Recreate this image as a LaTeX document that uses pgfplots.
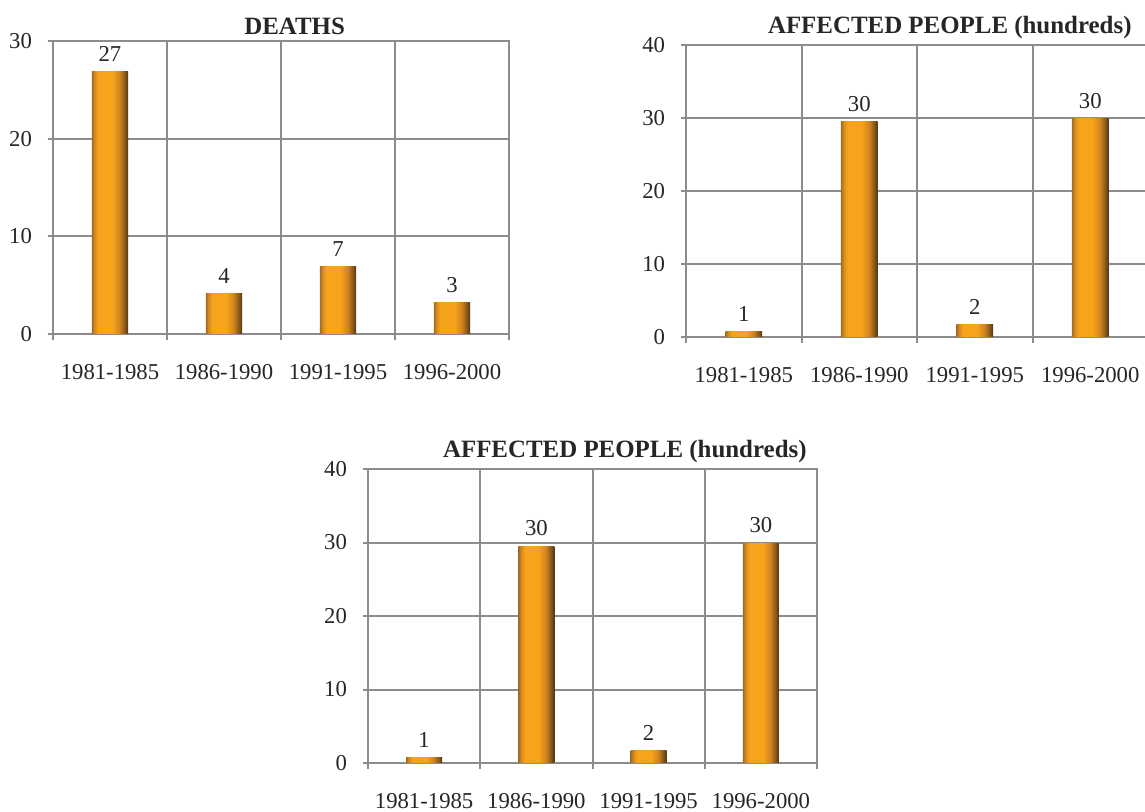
\documentclass[border=0pt]{standalone}
\usepackage{fontspec}
\setmainfont{Liberation Serif}
\usepackage{pgfplots}
\pgfplotsset{compat=1.18}

\definecolor{gridgray}{HTML}{8C8C8C}
\definecolor{txt}{HTML}{262626}
\definecolor{barL}{HTML}{A06A22}
\definecolor{barL2}{HTML}{D88C1E}
\definecolor{barM}{HTML}{F7A41C}
\definecolor{barR2}{HTML}{D28420}
\definecolor{barR3}{HTML}{8A5A1A}
\definecolor{barR}{HTML}{4E3414}
\pgfdeclarehorizontalshading{barshade}{100bp}{color(0bp)=(barL); color(25bp)=(barL); color(29bp)=(barL2); color(34bp)=(barM); color(53bp)=(barM); color(63bp)=(barR2); color(70bp)=(barR3); color(75bp)=(barR); color(100bp)=(barR)}

\pgfplotsset{
  disasters/.style={
    scale only axis,
    anchor=south west,
    xmin=-0.5, xmax=3.5, ymin=0,
    xtick={0,1,2,3},
    xticklabels={1981-1985,1986-1990,1991-1995,1996-2000},
    minor xtick={-0.5,0.5,1.5,2.5,3.5},
    xminorgrids=true, ymajorgrids=true,
    tick align=outside, tick pos=left,
    major tick length=2.5bp, minor tick length=3bp,
    major x tick style={draw=none},
    tick style={gridgray, line width=1bp},
    axis line style={gridgray, line width=1bp},
    grid style={gridgray, line width=1bp},
    tick label style={font=\fontsize{11.4}{13}\selectfont, text=txt},
    xticklabel style={yshift=-9bp},
    yticklabel style={xshift=-4.5bp},
    /pgf/number format/assume math mode=true,
    title style={font=\fontsize{12.5}{14}\selectfont\bfseries, text=txt, yshift=-6.5bp},
    ybar, bar width=0.32,
    nodes near coords,
    point meta=explicit symbolic,
    every node near coord/.append style={font=\fontsize{11.4}{13}\selectfont, text=txt, yshift=1.5bp},
    clip=false,
  },
  bevelbar/.style={shade, shading=barshade, draw=none, bar shift=0pt},
}

\begin{document}
\begin{tikzpicture}
\path[use as bounding box] (0,0) rectangle (572.5bp,406bp);

% deaths
\begin{axis}[disasters,
  at={(26.5bp,239bp)}, width=228bp, height=146.5bp,
  ymax=30, ytick={0,10,20,30},
  title={DEATHS}, title style={at={(0.53,1)}}]
\addplot[bevelbar] coordinates {(0,26.9) [27]};
\addplot[bevelbar] coordinates {(1,4.1) [4]};
\addplot[bevelbar] coordinates {(2,6.9) [7]};
\addplot[bevelbar] coordinates {(3,3.2) [3]};
\end{axis}

% affected people, top right
\begin{axis}[disasters,
  at={(343bp,237.5bp)}, width=231bp, height=146bp,
  ymax=40, ytick={0,10,20,30,40},
  title={AFFECTED PEOPLE (hundreds)}, title style={at={(0.571,1)}}]
\addplot[bevelbar] coordinates {(0,0.7) [1]};
\addplot[bevelbar] coordinates {(1,29.5) [30]};
\addplot[bevelbar] coordinates {(2,1.7) [2]};
\addplot[bevelbar] coordinates {(3,29.9) [30]};
\end{axis}

% affected people, bottom
\begin{axis}[disasters,
  at={(184bp,24.5bp)}, width=224.5bp, height=147bp,
  ymax=40, ytick={0,10,20,30,40},
  title={AFFECTED PEOPLE (hundreds)}, title style={at={(0.572,1)}}]
\addplot[bevelbar] coordinates {(0,0.7) [1]};
\addplot[bevelbar] coordinates {(1,29.5) [30]};
\addplot[bevelbar] coordinates {(2,1.7) [2]};
\addplot[bevelbar] coordinates {(3,29.9) [30]};
\end{axis}
\end{tikzpicture}
\end{document}
